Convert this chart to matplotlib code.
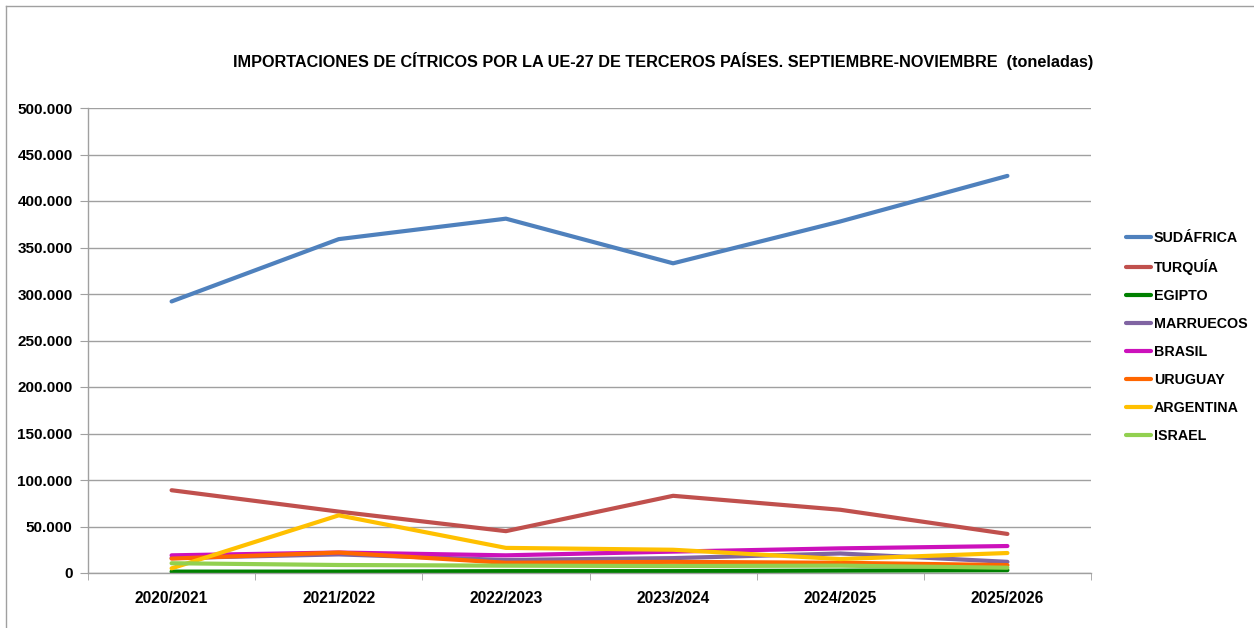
import numpy as np
import matplotlib.pyplot as plt
from matplotlib.ticker import FuncFormatter, FixedLocator

campanas = ["2020/2021", "2021/2022", "2022/2023", "2023/2024", "2024/2025", "2025/2026"]

sudafrica = [292000, 359000, 381000, 333000, 378000, 427000]
turquia   = [89000, 66000, 45000, 83000, 68000, 42000]
egipto    = [1500, 1500, 2000, 2000, 2500, 3000]
marruecos = [16000, 20000, 14000, 16000, 21000, 12000]
brasil    = [19000, 22000, 19000, 23000, 26500, 29000]
uruguay   = [15500, 22000, 11000, 12000, 11000, 8500]
argentina = [5000, 62000, 27000, 25000, 15000, 21500]
israel    = [10500, 8600, 7900, 7500, 7900, 5700]

series = [
    ("SUDÁFRICA", sudafrica, "#4F81BD"),
    ("TURQUÍA", turquia, "#C0504D"),
    ("EGIPTO", egipto, "#008000"),
    ("MARRUECOS", marruecos, "#8064A2"),
    ("BRASIL", brasil, "#CC11BB"),
    ("URUGUAY", uruguay, "#FF6600"),
    ("ARGENTINA", argentina, "#FFC000"),
    ("ISRAEL", israel, "#92D050"),
]

plt.rcParams['font.family'] = ['Liberation Sans', 'DejaVu Sans']

W, H = 1254, 628
fig = plt.figure(figsize=(W / 100, H / 100), dpi=100)
ax = fig.add_axes([88 / W, 1 - 573 / H, (1091 - 88) / W, (573 - 108) / H])

x = np.arange(len(campanas))
for name, vals, col in series:
    ax.plot(x, vals, color=col, lw=3.0, label=name, solid_capstyle='round')

ax.set_xlim(-0.5, len(campanas) - 0.5)
ax.set_ylim(0, 500000)
ax.set_yticks(np.arange(0, 500001, 50000))
ax.yaxis.set_major_formatter(FuncFormatter(lambda v, p: f"{int(v):,}".replace(",", ".")))
ax.grid(axis='y', color='#A0A0A0', lw=1.0)
ax.set_axisbelow(True)

ax.set_xticks(x)
ax.set_xticklabels(campanas, fontweight='bold', fontsize=11.2)
ax.xaxis.set_minor_locator(FixedLocator(np.arange(-0.5, len(campanas), 1.0)))
ax.tick_params(axis='x', which='major', length=0, pad=13)
ax.tick_params(axis='x', which='minor', length=5, color='#A0A0A0', direction='out')
ax.tick_params(axis='y', length=6, color='#A0A0A0', pad=5, labelsize=11)
for lab in ax.get_yticklabels():
    lab.set_fontweight('bold')

for s in ['top', 'right']:
    ax.spines[s].set_visible(False)
for s in ['left', 'bottom']:
    ax.spines[s].set_color('#A0A0A0')
    ax.spines[s].set_linewidth(1.0)

fig.text(663 / W, 1 - 61 / H,
         "IMPORTACIONES DE CÍTRICOS POR LA UE-27 DE TERCEROS PAÍSES. SEPTIEMBRE-NOVIEMBRE  (toneladas)",
         ha='center', va='center', fontsize=11.7, fontweight='bold')

leg = fig.legend(loc='upper left', bbox_to_anchor=(1113 / W, 1 - 218 / H), frameon=False,
                 handlelength=1.75, handletextpad=0.2, labelspacing=0.98,
                 prop={'weight': 'bold', 'size': 10.3})

# chart border (top and left, as in the spreadsheet export)
fig.add_artist(plt.Line2D([6 / W, 1], [1 - 6 / H, 1 - 6 / H], color='#A0A0A0', lw=1.0))
fig.add_artist(plt.Line2D([6 / W, 6 / W], [0, 1 - 6 / H], color='#A0A0A0', lw=1.0))

fig.savefig("out.png", dpi=100)
